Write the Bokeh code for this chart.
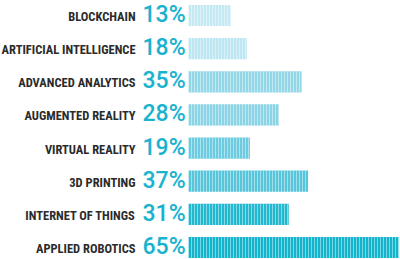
from bokeh.plotting import figure
from bokeh.models import ColumnDataSource, Range1d
from bokeh.core.properties import value
from bokeh.embed import file_html
from bokeh.resources import INLINE

categories = ["BLOCKCHAIN", "ARTIFICIAL INTELLIGENCE", "ADVANCED ANALYTICS",
              "AUGMENTED REALITY", "VIRTUAL REALITY", "3D PRINTING",
              "INTERNET OF THINGS", "APPLIED ROBOTICS"]
values = [13, 18, 35, 28, 19, 37, 31, 65]
colors = ["#c4e9f3", "#bce6f1", "#93d7e7", "#8bd4e5", "#6ccbe0", "#58c5db", "#22b8d0", "#12b4cc"]

n = len(categories)
ypos = [n - 1 - i for i in range(n)]
src = ColumnDataSource(dict(cat=categories, val=values, y=ypos, color=colors,
                            pct=[f"{v}%" for v in values]))

p = figure(width=400, height=259, output_backend="svg", toolbar_location=None,
           x_range=Range1d(-58.2, 65.6), y_range=Range1d(-0.362, 7.453),
           min_border=0, outline_line_color=None)
p.axis.visible = False
p.grid.visible = False
p.background_fill_color = "white"

p.hbar(y="y", left=0, right="val", height=0.64, source=src, fill_color="color",
       line_color=None, hatch_pattern="|", hatch_color="white", hatch_alpha=0.45,
       hatch_scale=3, hatch_weight=1)

p.text(x=0, y="y", text="pct", source=src, x_offset=-3, y_offset=-1,
       text_align="right", text_baseline="middle", text_color="#1ab3cf",
       text_font=value("Roboto Medium"), text_font_size="23px")
p.text(x=0, y="y", text="cat", source=src, x_offset=-53, y_offset=1,
       text_align="right", text_baseline="middle", text_color="#2b2b2b",
       text_font=value("Roboto Condensed"), text_font_style="bold",
       text_font_size="12.5px")

open("out.html", "w").write(file_html(p, INLINE))
